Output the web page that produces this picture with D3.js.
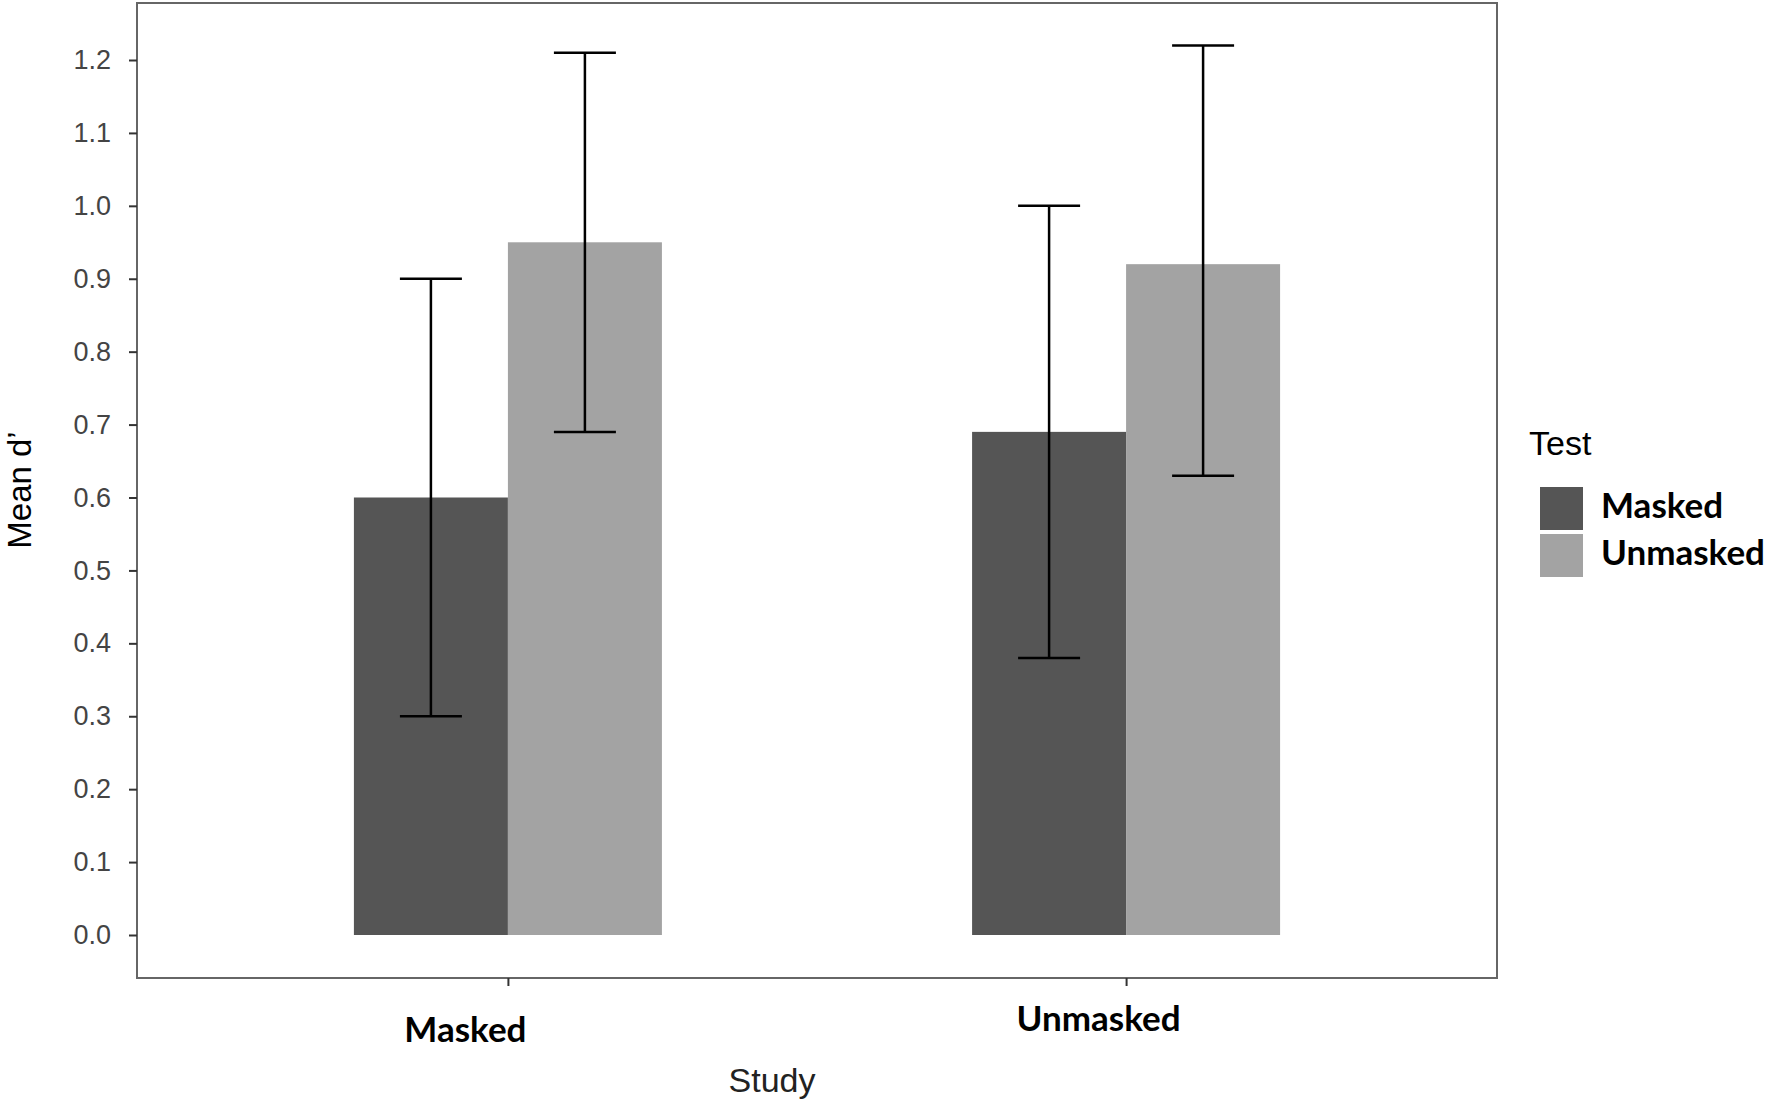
<!DOCTYPE html>
<html>
<head>
<meta charset="utf-8">
<script src="https://cdn.jsdelivr.net/npm/d3@7"></script>
<style>
  body { margin: 0; background: #fff; }
  svg { display: block; }
  .axis text { font-family: "Liberation Sans", Arial, sans-serif; }
</style>
</head>
<body>
<svg width="1770" height="1103"></svg>
<script>
const studies = ['Masked', 'Unmasked']
const tests = ['Masked', 'Unmasked']
// mean d' per study, one array per test
const meanMasked = [0.60, 0.69]
const meanUnmasked = [0.95, 0.92]
const lowMasked = [0.30, 0.38]
const lowUnmasked = [0.69, 0.63]
const highMasked = [0.90, 1.00]
const highUnmasked = [1.21, 1.22]
const yTicks = [0, 0.1, 0.2, 0.3, 0.4, 0.5, 0.6, 0.7, 0.8, 0.9, 1.0, 1.1, 1.2]

const colors = { Masked: '#555555', Unmasked: '#a3a3a3' }

const rows = []
studies.forEach((s, i) => {
  rows.push({ study: s, test: 'Masked', mean: meanMasked[i], lo: lowMasked[i], hi: highMasked[i] })
  rows.push({ study: s, test: 'Unmasked', mean: meanUnmasked[i], lo: lowUnmasked[i], hi: highUnmasked[i] })
})

const svg = d3.select('svg')
const panel = { left: 137, right: 1497, top: 3, bottom: 978 }

const x = d3.scalePoint().domain(studies).range([panel.left, panel.right]).padding(0.6)
const xInner = d3.scaleBand().domain(tests).range([-154, 154])
const y = d3.scaleLinear().domain([0, 1.2]).range([935, 60])

// bars
svg.append('g').selectAll('rect').data(rows).join('rect')
  .attr('x', d => x(d.study) + xInner(d.test))
  .attr('width', xInner.bandwidth())
  .attr('y', d => y(d.mean))
  .attr('height', d => y(0) - y(d.mean))
  .attr('fill', d => colors[d.test])

// error bars
const capW = 31
const err = svg.append('g').attr('stroke', '#000').attr('stroke-width', 2.5)
rows.forEach(d => {
  const cx = x(d.study) + xInner(d.test) + xInner.bandwidth() / 2
  err.append('line').attr('x1', cx).attr('x2', cx).attr('y1', y(d.lo)).attr('y2', y(d.hi))
  err.append('line').attr('x1', cx - capW).attr('x2', cx + capW).attr('y1', y(d.hi)).attr('y2', y(d.hi))
  err.append('line').attr('x1', cx - capW).attr('x2', cx + capW).attr('y1', y(d.lo)).attr('y2', y(d.lo))
})

// panel border
svg.append('rect')
  .attr('x', panel.left).attr('y', panel.top)
  .attr('width', panel.right - panel.left).attr('height', panel.bottom - panel.top)
  .attr('fill', 'none').attr('stroke', '#666').attr('stroke-width', 2)

// y axis
const yAxis = svg.append('g').attr('class', 'axis')
  .attr('transform', `translate(${panel.left},0)`)
  .call(d3.axisLeft(y).tickValues(yTicks).tickFormat(d3.format('.1f')).tickSize(8).tickPadding(18))
yAxis.select('.domain').remove()
yAxis.selectAll('line').attr('stroke', '#333').attr('stroke-width', 2)
yAxis.selectAll('text').attr('font-size', 27).attr('fill', '#444')

// x axis
const labelNudge = { Masked: [-43, 11], Unmasked: [-28, 0] }
const xAxis = svg.append('g').attr('class', 'axis')
  .attr('transform', `translate(0,${panel.bottom})`)
  .call(d3.axisBottom(x).tickSize(8).tickPadding(45))
xAxis.select('.domain').remove()
xAxis.selectAll('line').attr('stroke', '#333').attr('stroke-width', 2)
xAxis.selectAll('text')
  .style('font-family', 'Lato, "Open Sans", sans-serif')
  .attr('font-weight', 'bold').attr('font-size', 35).attr('fill', '#000')
  .attr('dy', null)
  .attr('x', d => labelNudge[d][0])
  .attr('y', d => 53 + labelNudge[d][1])

// axis titles
svg.append('text')
  .attr('x', 772).attr('y', 1092)
  .attr('text-anchor', 'middle')
  .attr('font-family', '"Liberation Sans", Arial, sans-serif')
  .attr('font-size', 34).attr('fill', '#222')
  .text('Study')

svg.append('text')
  .attr('transform', 'translate(31,490) rotate(-90)')
  .attr('text-anchor', 'middle')
  .attr('font-family', '"Liberation Sans", Arial, sans-serif')
  .attr('font-size', 33).attr('fill', '#000')
  .text('Mean d\u2019')

// legend
const legend = svg.append('g').attr('transform', 'translate(1529,455)')
legend.append('text')
  .attr('font-family', '"Liberation Sans", Arial, sans-serif')
  .attr('font-size', 34).attr('fill', '#000')
  .text('Test')
const item = legend.selectAll('.item').data(tests).join('g')
  .attr('class', 'item')
  .attr('transform', (d, i) => `translate(11,${32 + i * 47})`)
item.append('rect').attr('width', 43).attr('height', 43).attr('fill', d => colors[d])
item.append('text')
  .attr('x', 61).attr('y', 31)
  .style('font-family', 'Lato, "Open Sans", sans-serif')
  .attr('font-weight', 'bold').attr('font-size', 35).attr('fill', '#000')
  .text(d => d)
</script>
</body>
</html>
